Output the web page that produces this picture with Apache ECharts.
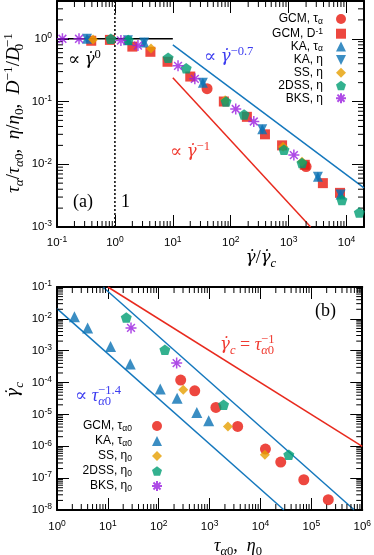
<!DOCTYPE html>
<html><head><meta charset="utf-8">
<script src="https://cdn.jsdelivr.net/npm/echarts@6/dist/echarts.min.js"></script>
<style>html,body{margin:0;padding:0;background:#fff}#c{width:374px;height:555px}</style>
</head><body><div id="c"></div>
<script>
// ---------- Panel (a): tau_alpha/tau_alpha0 etc. vs shear rate ----------
const aGcmTau  = [[39,0.16],[2000,0.0092]];
const aGcmDinv = [[0.39,0.93],[0.82,0.96],[2.0,0.75],[4.1,0.62],[8.1,0.43],[20,0.25],[76,0.10],[190,0.057],[390,0.030],[770,0.020],[1900,0.0098],[3900,0.0050],[7700,0.0035]];
const aKaTau   = [[0.33,1.0],[1.68,0.95],[3.2,0.87],[33,0.20],[350,0.036],[3200,0.0063],[7900,0.0033]];
const aKaEta   = [[0.33,1.0],[1.68,0.95],[3.2,0.87],[33,0.20],[350,0.036],[3200,0.0063],[7900,0.0033]];
const aSS      = [[0.42,0.97],[4.2,0.70],[80,0.105],[800,0.019],[1700,0.011]];
const a2DSS    = [[0.85,1.0],[1.7,0.96],[8.3,0.50],[17,0.34],[83,0.10],[170,0.062],[830,0.017],[1700,0.0105],[8300,0.0027],[16600,0.0017]];
const aBKS     = [[0.124,1.0],[0.24,1.0],[1.27,0.94],[2.5,0.78],[12.3,0.37],[24,0.23],[122,0.076],[250,0.048],[1230,0.014]];
const aFlat    = [[0.1,1],[10,1]];
const aDotted  = [[1,0.001],[1,4]];
const aBlue    = [[10,0.8],[20000,0.0042]];
const aRed     = [[10,0.24],[2400,0.001]];
const aXRange  = [0.1, 20000];
const aYRange  = [0.001, 4];

// ---------- Panel (b): critical shear rate vs tau_alpha0 ----------
const bGcm  = [[270,1.2e-4],[510,5.5e-5],[1330,1.66e-5],[3560,4.2e-6],[12500,8.2e-7],[25000,3.2e-7],[71000,8.9e-8],[215000,2.1e-8]];
const bKa   = [[2.2,0.0117],[4.0,0.0052],[11.3,0.00135],[27.5,3.8e-4],[107,6.3e-5],[230,3.2e-5],[560,1.15e-5],[960,6.3e-6]];
const bSS   = [[303,5.9e-5],[2290,4.2e-6],[12200,5.4e-7]];
const b2DSS = [[23,0.011],[132,0.00107],[1880,2.0e-5],[36000,5.4e-7]];
const bBKS  = [[28.5,0.0052],[225,4.1e-4]];
const bRed      = [[10,0.1],[1e6,1e-6]];
const bBlueUp   = [[8,0.1],[7e5,1e-8]];
const bBlueLow  = [[1,0.021],[29000,1e-8]];
const bXRange = [1, 1e6];
const bYRange = [1e-8, 0.1];

const namesA = ['GCM, τα','GCM, D-1','KA, τα','KA, η','SS, η','2DSS, η','BKS, η'];
const namesB = ['GCM, τα0','KA, τα0','SS, η0','2DSS, η0','BKS, η0'];

// ---------- styling ----------
const RED='#e8190f', BLUE='#0a72b4', ORANGE='#e69f00', GREEN='#009e73', PURPLE='#9a1ee0';
const LBLUE='#1578bd', LRED='#e82a1e', TBLUE='#3c3cf0', TRED='#f03a30';
const SERIF='"Liberation Serif","DejaVu Serif",serif';
const GFONT='"DejaVu Serif",serif';
const SANS='"Liberation Sans",Arial,sans-serif';
const PENT='path://M0,-10L9.51,-3.09L5.88,8.09L-5.88,8.09L-9.51,-3.09Z';
const STAR='path://M0,-10L0,10M-10,0L10,0M-7.07,-7.07L7.07,7.07M-7.07,7.07L7.07,-7.07';
const DTRI='path://M-10,-10L10,-10L0,10Z';

const legendMap = {
  'GCM, τα':'{t|GCM, τ}{sb|α}', 'GCM, D-1':'{t|GCM, D}{sp|-1}', 'KA, τα':'{t|KA, τ}{sb|α}',
  'KA, η':'{t|KA, η}', 'SS, η':'{t|SS, η}', '2DSS, η':'{t|2DSS, η}', 'BKS, η':'{t|BKS, η}',
  'GCM, τα0':'{t|GCM, τ}{sb|α0}', 'KA, τα0':'{t|KA, τ}{sb|α0}', 'SS, η0':'{t|SS, η}{sb|0}',
  '2DSS, η0':'{t|2DSS, η}{sb|0}', 'BKS, η0':'{t|BKS, η}{sb|0}'
};
const legRich = {
  t:{fontFamily:SANS,fontSize:12,lineHeight:14,color:'#000'},
  sb:{fontFamily:SANS,fontSize:8.5,lineHeight:8,verticalAlign:'bottom',color:'#000'},
  sp:{fontFamily:SANS,fontSize:8.5,lineHeight:8,verticalAlign:'top',color:'#000'}
};
const tickRich = {
  b:{fontFamily:SANS,fontSize:11.5,lineHeight:15,color:'#000'},
  s:{fontFamily:SANS,fontSize:8.5,lineHeight:7,verticalAlign:'top',color:'#000'}
};
function tickLabel(v){
  const e=Math.log10(v), r=Math.round(e);
  if (Math.abs(e-r)>1e-6) return '';
  return '{b|10}{s|'+r+'}';
}
function logAxis(o, labelOpt){
  return Object.assign({
    type:'log', logBase:10,
    axisLine:{show:true,onZero:false,lineStyle:{color:'#000',width:2}},
    axisTick:{show:true,inside:true,length:12,lineStyle:{color:'#000',width:1}},
    splitLine:{show:false}, minorTick:{show:false}, minorSplitLine:{show:false},
    axisLabel: labelOpt ? Object.assign({show:true,formatter:tickLabel,rich:tickRich}, labelOpt) : {show:false}
  }, o);
}
function minorVals(lo, hi){
  const out=[];
  for (let e=Math.floor(Math.log10(lo)); e<Math.ceil(Math.log10(hi)); e++)
    for (let m=2;m<=9;m++){ const v=m*Math.pow(10,e); if (v>lo*1.0001 && v<hi*0.9999) out.push(v); }
  return out;
}
function xMinor(ai, vals, yref){
  return {type:'custom', xAxisIndex:ai, yAxisIndex:ai, silent:true, clip:false, z:4, animation:false,
    data: vals.map(v=>[v,yref]),
    renderItem(params, api){
      const cs=params.coordSys, x=api.coord([api.value(0),api.value(1)])[0], b=cs.y+cs.height;
      return {type:'group',children:[
        {type:'line',shape:{x1:x,y1:b,x2:x,y2:b-6},style:{stroke:'#000',lineWidth:1}},
        {type:'line',shape:{x1:x,y1:cs.y,x2:x,y2:cs.y+6},style:{stroke:'#000',lineWidth:1}}]};
    }};
}
function yMinor(ai, vals, xref){
  return {type:'custom', xAxisIndex:ai, yAxisIndex:ai, silent:true, clip:false, z:4, animation:false,
    data: vals.map(v=>[xref,v]),
    renderItem(params, api){
      const cs=params.coordSys, y=api.coord([api.value(0),api.value(1)])[1], r=cs.x+cs.width;
      return {type:'group',children:[
        {type:'line',shape:{x1:cs.x,y1:y,x2:cs.x+6,y2:y},style:{stroke:'#000',lineWidth:1}},
        {type:'line',shape:{x1:r,y1:y,x2:r-6,y2:y},style:{stroke:'#000',lineWidth:1}}]};
    }};
}
function sc(name, data, ai, symbol, size, color, extra){
  return Object.assign({type:'scatter', name, data, xAxisIndex:ai, yAxisIndex:ai, symbol, symbolSize:size,
    symbolKeepAspect:true, itemStyle:{color}, z:5, emphasis:{disabled:true}, animation:false}, extra||{});
}
function ln(data, ai, color, width, type){
  return {type:'line', data, xAxisIndex:ai, yAxisIndex:ai, symbol:'none', silent:true, z:2, animation:false,
    lineStyle:{color, width, type: type||'solid'}};
}
const starExtra = {itemStyle:{color:PURPLE,borderColor:PURPLE,borderWidth:1.5}};

// math text helpers (zrender rich styles)
function mRich(c, fs){
  const base={fontFamily:SERIF,fill:c,color:c};
  return {
    n:Object.assign({fontSize:fs,lineHeight:24},base),
    i:Object.assign({fontSize:fs,lineHeight:24,fontStyle:'italic'},base),
    g:Object.assign({},base,{fontSize:fs*0.92,lineHeight:24,fontStyle:'italic',fontFamily:GFONT}),
    sp:Object.assign({fontSize:fs*0.7,lineHeight:13,verticalAlign:'top'},base),
    sp0:Object.assign({fontSize:fs*0.7,lineHeight:13,verticalAlign:'top',width:0.1},base),
    sb:Object.assign({fontSize:fs*0.7,lineHeight:14,verticalAlign:'bottom',fontStyle:'italic'},base),
    sbn:Object.assign({fontSize:fs*0.7,lineHeight:14,verticalAlign:'bottom'},base),
    sbn0:Object.assign({fontSize:fs*0.7,lineHeight:14,verticalAlign:'bottom',width:0.1},base)
  };
}
function gt(text, x, y, color, fs, opt){
  opt=opt||{};
  return {type:'text', x, y, z:20, rotation:opt.rot||0, silent:true,
    style:{text, rich:mRich(color,fs), fill:color, align:opt.align||'left', verticalAlign:'middle',
      fontFamily:SERIF, fontSize:fs}};
}
const GD='{g|γ\u0307}';
function legendOpt(names, right, top, gap, textPad){
  return {data:names, right, top, itemGap:gap, orient:'vertical', align:'right', itemWidth:10, itemHeight:10,
    padding:0, selectedMode:false, symbolKeepAspect:true, formatter:n=>legendMap[n],
    textStyle:{fontFamily:SANS,fontSize:12,color:'#000',rich:legRich,padding:[0,textPad,0,0]}};
}

const option = {
  animation:false,
  backgroundColor:'#fff',
  grid:[
    {left:57, top:1, width:307, height:226},
    {left:57, top:287, width:308, height:223}
  ],
  xAxis:[
    logAxis({gridIndex:0,position:'bottom',min:aXRange[0],max:aXRange[1]},{margin:8}),
    logAxis({gridIndex:0,position:'top',min:aXRange[0],max:aXRange[1]}),
    logAxis({gridIndex:1,position:'bottom',min:bXRange[0],max:bXRange[1]},{margin:9}),
    logAxis({gridIndex:1,position:'top',min:bXRange[0],max:bXRange[1]})
  ],
  yAxis:[
    logAxis({gridIndex:0,position:'left',min:aYRange[0],max:aYRange[1]},{margin:5}),
    logAxis({gridIndex:0,position:'right',min:aYRange[0],max:aYRange[1]}),
    logAxis({gridIndex:1,position:'left',min:bYRange[0],max:bYRange[1]},{margin:5}),
    logAxis({gridIndex:1,position:'right',min:bYRange[0],max:bYRange[1]})
  ],
  legend:[
    legendOpt(namesA, 27, 13, 0.7, 8),
    legendOpt(namesB, 211, 420, 2, 15)
  ],
  series:[
    xMinor(0, minorVals(aXRange[0],aXRange[1]), 1),
    yMinor(0, minorVals(aYRange[0],aYRange[1]), 1),
    xMinor(2, minorVals(bXRange[0],bXRange[1]), 0.001),
    yMinor(2, minorVals(bYRange[0],bYRange[1]), 10),
    ln(aFlat,0,'#000',1.5),
    ln(aDotted,0,'#000',1.5,[2,2]),
    ln(aBlue,0,LBLUE,1.5),
    ln(aRed,0,LRED,1.5),
    ln(bRed,2,LRED,1.5),
    ln(bBlueUp,2,LBLUE,1.5),
    ln(bBlueLow,2,LBLUE,1.5),
    sc('GCM, τα',aGcmTau,0,'circle',11,RED),
    sc('GCM, D-1',aGcmDinv,0,'rect',10,RED),
    sc('KA, τα',aKaTau,0,'triangle',10,BLUE),
    sc('KA, η',aKaEta,0,DTRI,10,BLUE),
    sc('SS, η',aSS,0,'diamond',10,ORANGE),
    sc('2DSS, η',a2DSS,0,PENT,11,GREEN),
    sc('BKS, η',aBKS,0,STAR,11,PURPLE,starExtra),
    sc('GCM, τα0',bGcm,2,'circle',11,RED),
    sc('KA, τα0',bKa,2,'triangle',11,BLUE),
    sc('SS, η0',bSS,2,'diamond',10,ORANGE),
    sc('2DSS, η0',b2DSS,2,PENT,11,GREEN),
    sc('BKS, η0',bBKS,2,STAR,11,PURPLE,starExtra)
  ],
  graphic:[
    gt('{n|∝ }'+GD+'{sp|0}', 68, 60, '#000', 18),
    gt('{n|(a)}', 73, 202, '#000', 18),
    gt('{n|1}', 121, 202, '#000', 18),
    gt('{n|∝ }'+GD+'{sp|−0.7}', 204, 57, TBLUE, 18),
    gt('{n|∝ }'+GD+'{sp|−1}', 170, 152, TRED, 18),
    gt('{n|(b)}', 315, 311, '#000', 18),
    gt(GD+'{sb|c}{n| = }{i|τ}{sp0|−1}{sb|α}{sbn|0}', 220, 345, TRED, 18),
    gt('{n|∝ }{i|τ}{sp0|−1.4}{sb|α}{sbn|0}', 75, 396, TBLUE, 18),
    gt(GD+'{n|/}'+GD+'{sb|c}', 261, 258, '#000', 18, {align:'center'}),
    gt('{i|τ}{sb|α}{sbn|0}{n|,  }{i|η}{sbn|0}', 238, 546, '#000', 18, {align:'center'}),
    gt('{i|τ}{sb|α}{n|/}{i|τ}{sb|α}{sbn|0}{n|,  }{i|η}{n|/}{i|η}{sbn|0}{n|,  }{i|D}{sp|−1}{n|/}{i|D}{sbn0|0}{sp|−1}', 14, 113, '#000', 19, {align:'center', rot:Math.PI/2}),
    gt(GD+'{sb|c}', 14, 390, '#000', 18, {align:'center', rot:Math.PI/2})
  ]
};
const chart = echarts.init(document.getElementById('c'), null, {renderer:'canvas'});
chart.setOption(option);
</script>
</body></html>
